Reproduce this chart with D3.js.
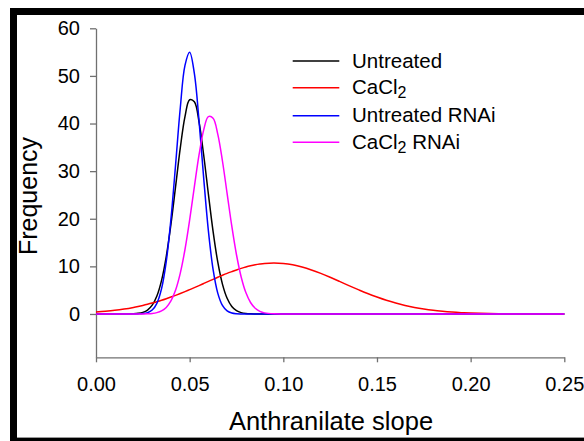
<!DOCTYPE html>
<html>
<head>
<meta charset="utf-8">
<script src="https://cdn.jsdelivr.net/npm/d3@7/dist/d3.min.js"></script>
<style>
  html, body { margin: 0; padding: 0; background: #fff; }
  svg { display: block; }
  text { font-family: "Liberation Sans", Arial, sans-serif; fill: #000; }
</style>
</head>
<body>
<svg id="chart" width="584" height="441"></svg>
<script>
// Anthranilate slope sample positions (shared by all four curves)
const slope = [
  0, 0.005, 0.01, 0.015,
  0.02, 0.0225, 0.025, 0.0275, 0.03, 0.0325, 0.035, 0.0375, 0.04, 0.0425,
  0.045, 0.0475, 0.05, 0.0525, 0.055, 0.0575, 0.06, 0.0625, 0.065, 0.0675,
  0.07, 0.0725, 0.075, 0.0775, 0.08, 0.0825, 0.085, 0.0875, 0.09,
  0.095, 0.1, 0.105, 0.11, 0.115, 0.12, 0.125, 0.13, 0.135, 0.14, 0.145,
  0.15, 0.155, 0.16, 0.165, 0.17, 0.175, 0.18, 0.185, 0.19, 0.195, 0.2,
  0.205, 0.21, 0.215, 0.22, 0.225, 0.23, 0.235, 0.24, 0.245, 0.25
];

// Frequency values for each treatment
const untreated = [
  0, 0, 0, 0,
  0.04, 0.13, 0.34, 0.82, 1.85, 3.78, 7.07, 12.07, 18.82, 26.81,
  34.88, 41.45, 45.0, 44.57, 40.34, 33.34, 25.17, 17.35, 10.92, 6.28,
  3.30, 1.58, 0.69, 0.28, 0.10, 0.03, 0.01, 0, 0,
  0, 0, 0, 0, 0, 0, 0, 0, 0, 0, 0,
  0, 0, 0, 0, 0, 0, 0, 0, 0, 0, 0,
  0, 0, 0, 0, 0, 0, 0, 0, 0, 0
];
const cacl2 = [
  0.40, 0.56, 0.76, 1.03,
  1.37, 1.57, 1.79, 2.03, 2.29, 2.57, 2.87, 3.20, 3.55, 3.91,
  4.29, 4.69, 5.11, 5.53, 5.96, 6.40, 6.84, 7.28, 7.70, 8.12,
  8.52, 8.89, 9.25, 9.57, 9.86, 10.11, 10.32, 10.48, 10.60,
  10.70, 10.60, 10.32, 9.86, 9.25, 8.52, 7.70, 6.84, 5.96, 5.11, 4.29,
  3.55, 2.87, 2.29, 1.79, 1.37, 1.03, 0.76, 0.56, 0.40, 0.28, 0.19,
  0.13, 0.09, 0.06, 0.04, 0.02, 0.01, 0.01, 0.01, 0, 0
];
const untreatedRNAi = [
  0, 0, 0, 0,
  0, 0.02, 0.08, 0.27, 0.83, 2.24, 5.32, 11.0, 19.88, 31.40,
  43.31, 52.20, 54.95, 50.53, 40.59, 28.49, 17.46, 9.36, 4.38, 1.79,
  0.64, 0.20, 0.05, 0.01, 0, 0, 0, 0, 0,
  0, 0, 0, 0, 0, 0, 0, 0, 0, 0, 0,
  0, 0, 0, 0, 0, 0, 0, 0, 0, 0, 0,
  0, 0, 0, 0, 0, 0, 0, 0, 0, 0
];
const cacl2RNAi = [
  0, 0, 0, 0,
  0, 0, 0.01, 0.04, 0.11, 0.28, 0.64, 1.38, 2.74, 5.04,
  8.59, 13.54, 19.76, 26.70, 33.39, 38.66, 41.44, 41.12, 37.78, 32.13,
  25.29, 18.43, 12.44, 7.77, 4.49, 2.41, 1.19, 0.55, 0.23,
  0.03, 0, 0, 0, 0, 0, 0, 0, 0, 0, 0,
  0, 0, 0, 0, 0, 0, 0, 0, 0, 0, 0,
  0, 0, 0, 0, 0, 0, 0, 0, 0, 0
];

// Legend labels: [main text, subscript, trailing text]
const seriesLabels = [
  ["Untreated", "", ""],
  ["CaCl", "2", ""],
  ["Untreated RNAi", "", ""],
  ["CaCl", "2", " RNAi"]
];
const seriesColors = ["#000000", "#ff0000", "#0000ff", "#ff00ff"];
const seriesValues = [untreated, cacl2, untreatedRNAi, cacl2RNAi];

const xTicks = [0, 0.05, 0.1, 0.15, 0.2, 0.25];
const yTicks = [0, 10, 20, 30, 40, 50, 60];

const svg = d3.select("#chart");

// Black frame around the figure
svg.append("rect").attr("x", 10).attr("y", 8).attr("width", 600).attr("height", 450).attr("fill", "#000");
svg.append("rect").attr("x", 17).attr("y", 15).attr("width", 600).attr("height", 422.5).attr("fill", "#fff");
svg.append("line").attr("x1", 17).attr("x2", 584).attr("y1", 437.5).attr("y2", 437.5)
  .attr("stroke", "#999").attr("stroke-width", 1);

const x = d3.scaleLinear().domain([0, 0.25]).range([96, 564.3]);
const y = d3.scaleLinear().domain([-9.1, 60]).range([357.3, 28.3]);

const axisColor = "#707070";
const fontStack = "Liberation Sans, Arial, sans-serif";

// X axis
const gx = svg.append("g").attr("transform", `translate(0,${y(-9.1)})`)
  .call(d3.axisBottom(x).tickValues(xTicks).tickFormat(d3.format(".2f"))
    .tickSize(5).tickSizeOuter(0).tickPadding(15));
gx.select(".domain").attr("stroke", axisColor).attr("stroke-width", 1.3);
gx.selectAll(".tick line").attr("stroke", axisColor).attr("stroke-width", 1.3);
gx.selectAll(".tick text").attr("font-size", 20).attr("font-family", fontStack).attr("fill", "#000");

// Y axis
const gy = svg.append("g").attr("transform", `translate(${x(0)},0)`)
  .call(d3.axisLeft(y).tickValues(yTicks).tickFormat(d3.format("d"))
    .tickSize(6).tickSizeOuter(0).tickPadding(10));
gy.select(".domain").attr("stroke", axisColor).attr("stroke-width", 1.3);
gy.selectAll(".tick line").attr("stroke", axisColor).attr("stroke-width", 1.3);
gy.selectAll(".tick text").attr("font-size", 20).attr("font-family", fontStack).attr("fill", "#000");

// Axis titles
svg.append("text").attr("x", 331).attr("y", 430).attr("text-anchor", "middle")
  .attr("font-size", 25.5).text("Anthranilate slope");
svg.append("text").attr("transform", "translate(37,196) rotate(-90)").attr("text-anchor", "middle")
  .attr("font-size", 25).text("Frequency");

// Curves
const line = d3.line()
  .x((d, i) => x(slope[i]))
  .y(d => y(d))
  .curve(d3.curveCatmullRom.alpha(0.5));

svg.append("g").selectAll("path")
  .data(seriesValues)
  .join("path")
  .attr("fill", "none")
  .attr("stroke", (d, i) => seriesColors[i])
  .attr("stroke-width", 1.5)
  .attr("d", d => line(d));

// Legend
const legendY = [61, 87.7, 115.7, 142.3];
const legend = svg.append("g");
seriesLabels.forEach((lab, i) => {
  legend.append("line")
    .attr("x1", 292.7).attr("x2", 339.3)
    .attr("y1", legendY[i]).attr("y2", legendY[i])
    .attr("stroke", seriesColors[i]).attr("stroke-width", 1.5);
  const t = legend.append("text").attr("x", 352).attr("y", legendY[i] + 6.5).attr("font-size", 20.5);
  t.append("tspan").text(lab[0]);
  if (lab[1]) {
    t.append("tspan").attr("font-size", 16).attr("dy", 4).text(lab[1]);
    if (lab[2]) t.append("tspan").attr("dy", -4).text(lab[2]);
  }
});
</script>
</body>
</html>
